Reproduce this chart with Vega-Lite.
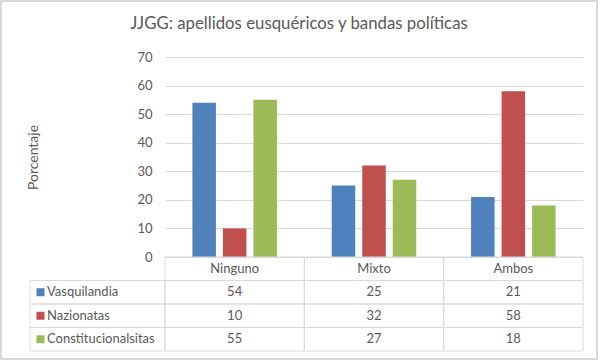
{
  "$schema": "https://vega.github.io/schema/vega-lite/v6.json",
  "width": 418,
  "height": 200,
  "autosize": {"type": "none"},
  "padding": {"left": 165, "top": 57, "right": 17, "bottom": 104},
  "background": "white",
  "config": {
    "view": {"stroke": null},
    "font": "Lato",
    "text": {"font": "Lato", "fontSize": 13, "color": "#595959"}
  },
  "title": {
    "text": "JJGG: apellidos eusquéricos y bandas políticas",
    "font": "Lato",
    "fontSize": 16.8,
    "fontWeight": "normal",
    "color": "#595959",
    "anchor": "middle",
    "dx": -75,
    "offset": -33
  },
  "datasets": {
    "vals": [
      {"cat": "Ninguno", "serie": "Vasquilandia", "value": 54},
      {"cat": "Ninguno", "serie": "Nazionatas", "value": 10},
      {"cat": "Ninguno", "serie": "Constitucionalsitas", "value": 55},
      {"cat": "Mixto", "serie": "Vasquilandia", "value": 25},
      {"cat": "Mixto", "serie": "Nazionatas", "value": 32},
      {"cat": "Mixto", "serie": "Constitucionalsitas", "value": 27},
      {"cat": "Ambos", "serie": "Vasquilandia", "value": 21},
      {"cat": "Ambos", "serie": "Nazionatas", "value": 58},
      {"cat": "Ambos", "serie": "Constitucionalsitas", "value": 18}
    ]
  },
  "data": {"name": "vals"},
  "resolve": {"scale": {"x": "independent", "y": "independent", "color": "shared"}},
  "layer": [
    {
      "transform": [{"filter": "datum.cat == 'Ninguno' && datum.serie == 'Vasquilandia'"}],
      "mark": {"type": "rect", "fill": "white", "fillOpacity": 0, "stroke": "#D9D9D9", "strokeWidth": 2},
      "encoding": {
        "x": {"datum": "frame", "type": "nominal", "scale": {"domain": ["frame"], "range": [-164, 432], "paddingInner": 0, "paddingOuter": 0}, "axis": null},
        "y": {"datum": "frame", "type": "nominal", "scale": {"domain": ["frame"], "range": [-56, 302], "paddingInner": 0, "paddingOuter": 0}, "axis": null}
      }
    },
    {
      "mark": {"type": "bar"},
      "encoding": {
        "x": {"field": "cat", "type": "nominal", "sort": ["Ninguno", "Mixto", "Ambos"],
              "scale": {"domain": ["Ninguno", "Mixto", "Ambos"], "paddingInner": 0, "paddingOuter": 0}, "axis": null},
        "xOffset": {"field": "serie", "type": "nominal",
                    "scale": {"domain": ["Vasquilandia", "Nazionatas", "Constitucionalsitas"], "paddingInner": 0.2295, "paddingOuter": 0.898}},
        "y": {"field": "value", "type": "quantitative",
              "scale": {"domain": [0, 70], "nice": false},
              "axis": {"values": [0, 10, 20, 30, 40, 50, 60, 70], "domain": false, "ticks": false,
                       "grid": true, "gridColor": "#D9D9D9", "gridWidth": 1,
                       "labelColor": "#595959", "labelFont": "Lato", "labelFontSize": 13, "labelPadding": 13,
                       "title": "Porcentaje", "titleFont": "Lato", "titleFontSize": 14, "titleFontWeight": "normal",
                       "titleColor": "#595959", "titleX": -132, "titleY": 100, "titleAngle": -90,
                       "titleBaseline": "middle", "titleAlign": "center"}},
        "color": {"field": "serie", "type": "nominal",
                  "scale": {"domain": ["Vasquilandia", "Nazionatas", "Constitucionalsitas"], "range": ["#4F81BD", "#C0504D", "#9BBB59"]},
                  "legend": null}
      }
    },
    {
      "mark": {"type": "rect", "fill": "white", "fillOpacity": 0, "stroke": "#D9D9D9", "strokeWidth": 1},
      "encoding": {
        "x": {"field": "cat", "type": "nominal", "scale": {"domain": ["Ninguno", "Mixto", "Ambos"], "paddingInner": 0, "paddingOuter": 0}, "axis": null},
        "y": {"field": "serie", "type": "nominal",
              "scale": {"domain": ["header", "Vasquilandia", "Nazionatas", "Constitucionalsitas"], "range": [200, 294], "paddingInner": 0, "paddingOuter": 0}, "axis": null}
      }
    },
    {
      "mark": {"type": "text", "fontSize": 13, "color": "#595959", "baseline": "middle"},
      "encoding": {
        "x": {"field": "cat", "type": "nominal", "scale": {"domain": ["Ninguno", "Mixto", "Ambos"], "paddingInner": 0, "paddingOuter": 0}, "axis": null},
        "y": {"field": "serie", "type": "nominal",
              "scale": {"domain": ["header", "Vasquilandia", "Nazionatas", "Constitucionalsitas"], "range": [200, 294], "paddingInner": 0, "paddingOuter": 0}, "axis": null},
        "text": {"field": "value", "type": "quantitative"}
      }
    },
    {
      "transform": [{"filter": "datum.serie == 'Vasquilandia'"}],
      "mark": {"type": "rect", "fill": "white", "fillOpacity": 0, "stroke": "#D9D9D9", "strokeWidth": 1},
      "encoding": {
        "x": {"field": "cat", "type": "nominal", "scale": {"domain": ["Ninguno", "Mixto", "Ambos"], "paddingInner": 0, "paddingOuter": 0}, "axis": null},
        "y": {"datum": "header", "type": "nominal",
              "scale": {"domain": ["header", "Vasquilandia", "Nazionatas", "Constitucionalsitas"], "range": [200, 294], "paddingInner": 0, "paddingOuter": 0}, "axis": null}
      }
    },
    {
      "transform": [{"filter": "datum.serie == 'Vasquilandia'"}],
      "mark": {"type": "text", "fontSize": 13, "color": "#595959", "baseline": "middle"},
      "encoding": {
        "x": {"field": "cat", "type": "nominal", "scale": {"domain": ["Ninguno", "Mixto", "Ambos"], "paddingInner": 0, "paddingOuter": 0}, "axis": null},
        "y": {"datum": "header", "type": "nominal",
              "scale": {"domain": ["header", "Vasquilandia", "Nazionatas", "Constitucionalsitas"], "range": [200, 294], "paddingInner": 0, "paddingOuter": 0}, "axis": null},
        "text": {"field": "cat", "type": "nominal"}
      }
    },
    {
      "transform": [{"filter": "datum.cat == 'Ninguno'"}],
      "mark": {"type": "rect", "fill": "white", "fillOpacity": 0, "stroke": "#D9D9D9", "strokeWidth": 1},
      "encoding": {
        "x": {"datum": "lbl", "type": "nominal", "scale": {"domain": ["lbl"], "range": [-135, 0], "paddingInner": 0, "paddingOuter": 0}, "axis": null},
        "y": {"field": "serie", "type": "nominal",
              "scale": {"domain": ["header", "Vasquilandia", "Nazionatas", "Constitucionalsitas"], "range": [200, 294], "paddingInner": 0, "paddingOuter": 0}, "axis": null}
      }
    },
    {
      "transform": [{"filter": "datum.cat == 'Ninguno'"}],
      "mark": {"type": "point", "shape": "square", "filled": true, "size": 64, "opacity": 1},
      "encoding": {
        "x": {"datum": "lbl", "type": "nominal", "scale": {"domain": ["lbl"], "range": [-135, -114], "paddingInner": 0, "paddingOuter": 0}, "axis": null},
        "y": {"field": "serie", "type": "nominal",
              "scale": {"domain": ["header", "Vasquilandia", "Nazionatas", "Constitucionalsitas"], "range": [200, 294], "paddingInner": 0, "paddingOuter": 0}, "axis": null},
        "color": {"field": "serie", "type": "nominal",
                  "scale": {"domain": ["Vasquilandia", "Nazionatas", "Constitucionalsitas"], "range": ["#4F81BD", "#C0504D", "#9BBB59"]},
                  "legend": null}
      }
    },
    {
      "transform": [{"filter": "datum.cat == 'Ninguno'"}],
      "mark": {"type": "text", "fontSize": 13, "color": "#595959", "baseline": "middle", "align": "left"},
      "encoding": {
        "x": {"datum": "lbl", "type": "nominal", "scale": {"domain": ["lbl"], "range": [-135, -101], "paddingInner": 0, "paddingOuter": 0}, "axis": null},
        "y": {"field": "serie", "type": "nominal",
              "scale": {"domain": ["header", "Vasquilandia", "Nazionatas", "Constitucionalsitas"], "range": [200, 294], "paddingInner": 0, "paddingOuter": 0}, "axis": null},
        "text": {"field": "serie", "type": "nominal"}
      }
    }
  ]
}
